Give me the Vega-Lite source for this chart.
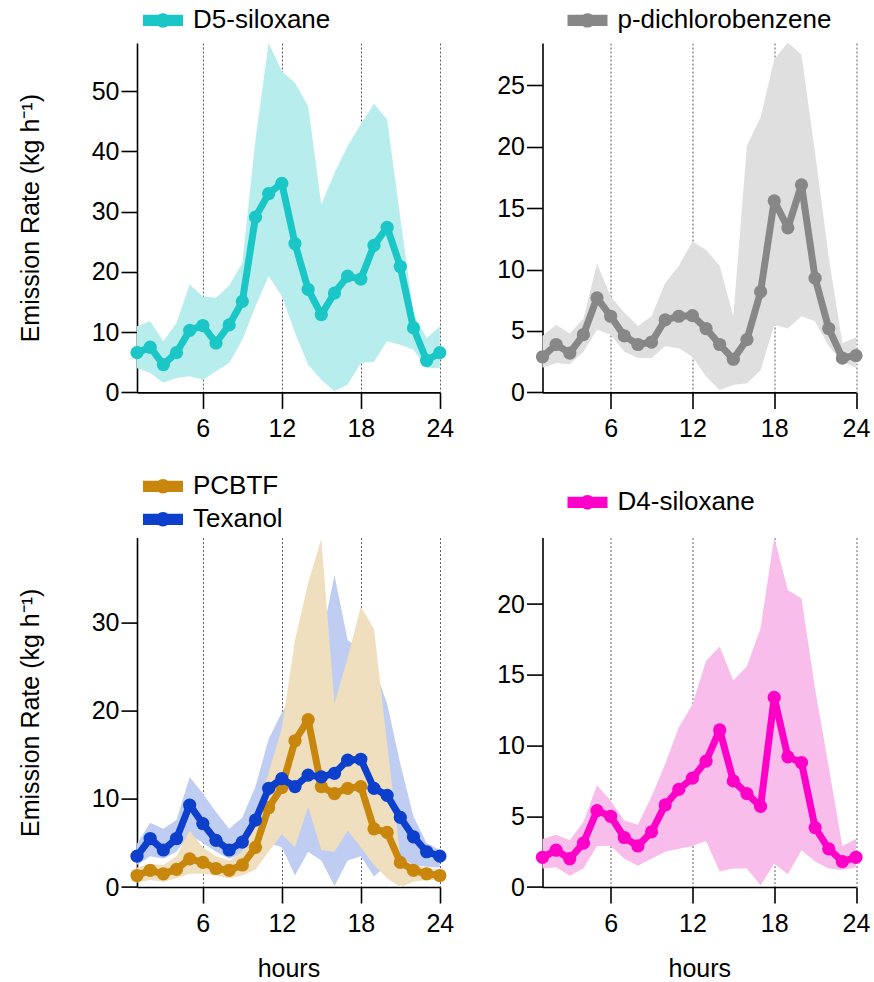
{
  "$schema": "https://vega.github.io/schema/vega-lite/v6.json",
  "autosize": {"type": "pad"},
  "padding": {"left": 18, "top": 0, "right": 5, "bottom": 5},
  "background": "white",
  "datasets": {
    "d5": [
      {"compound": "D5-siloxane", "hour": 1, "mean": 6.6, "lo": 4.0, "hi": 11.0},
      {"compound": "D5-siloxane", "hour": 2, "mean": 7.5, "lo": 3.2, "hi": 11.8},
      {"compound": "D5-siloxane", "hour": 3, "mean": 4.6, "lo": 1.6, "hi": 8.5},
      {"compound": "D5-siloxane", "hour": 4, "mean": 6.6, "lo": 2.4, "hi": 11.5},
      {"compound": "D5-siloxane", "hour": 5, "mean": 10.3, "lo": 2.7, "hi": 17.9},
      {"compound": "D5-siloxane", "hour": 6, "mean": 11.1, "lo": 2.1, "hi": 15.9},
      {"compound": "D5-siloxane", "hour": 7, "mean": 8.2, "lo": 3.5, "hi": 15.7},
      {"compound": "D5-siloxane", "hour": 8, "mean": 11.2, "lo": 4.9, "hi": 17.7},
      {"compound": "D5-siloxane", "hour": 9, "mean": 15.1, "lo": 8.7, "hi": 21.5},
      {"compound": "D5-siloxane", "hour": 10, "mean": 29.1, "lo": 14.3, "hi": 42.0},
      {"compound": "D5-siloxane", "hour": 11, "mean": 33.0, "lo": 19.3, "hi": 58.0},
      {"compound": "D5-siloxane", "hour": 12, "mean": 34.7, "lo": 16.0, "hi": 53.3},
      {"compound": "D5-siloxane", "hour": 13, "mean": 24.7, "lo": 9.9, "hi": 51.4},
      {"compound": "D5-siloxane", "hour": 14, "mean": 17.1, "lo": 4.6, "hi": 47.5},
      {"compound": "D5-siloxane", "hour": 15, "mean": 12.9, "lo": 2.1, "hi": 31.2},
      {"compound": "D5-siloxane", "hour": 16, "mean": 16.5, "lo": 0.2, "hi": 36.4},
      {"compound": "D5-siloxane", "hour": 17, "mean": 19.3, "lo": 1.3, "hi": 40.9},
      {"compound": "D5-siloxane", "hour": 18, "mean": 18.8, "lo": 4.9, "hi": 44.5},
      {"compound": "D5-siloxane", "hour": 19, "mean": 24.4, "lo": 5.1, "hi": 47.9},
      {"compound": "D5-siloxane", "hour": 20, "mean": 27.4, "lo": 8.5, "hi": 45.3},
      {"compound": "D5-siloxane", "hour": 21, "mean": 20.9, "lo": 7.9, "hi": 29.0},
      {"compound": "D5-siloxane", "hour": 22, "mean": 10.7, "lo": 7.1, "hi": 13.0},
      {"compound": "D5-siloxane", "hour": 23, "mean": 5.3, "lo": 4.0, "hi": 9.0},
      {"compound": "D5-siloxane", "hour": 24, "mean": 6.6, "lo": 4.0, "hi": 11.0}
    ],
    "pdcb": [
      {"compound": "p-dichlorobenzene", "hour": 1, "mean": 2.9, "lo": 2.0, "hi": 4.6},
      {"compound": "p-dichlorobenzene", "hour": 2, "mean": 3.9, "lo": 2.4, "hi": 5.5},
      {"compound": "p-dichlorobenzene", "hour": 3, "mean": 3.2, "lo": 2.3, "hi": 4.8},
      {"compound": "p-dichlorobenzene", "hour": 4, "mean": 4.7, "lo": 3.3, "hi": 6.0},
      {"compound": "p-dichlorobenzene", "hour": 5, "mean": 7.7, "lo": 5.1, "hi": 10.5},
      {"compound": "p-dichlorobenzene", "hour": 6, "mean": 6.2, "lo": 4.7, "hi": 7.8},
      {"compound": "p-dichlorobenzene", "hour": 7, "mean": 4.6, "lo": 3.3, "hi": 6.5},
      {"compound": "p-dichlorobenzene", "hour": 8, "mean": 3.9, "lo": 2.8, "hi": 5.4},
      {"compound": "p-dichlorobenzene", "hour": 9, "mean": 4.1, "lo": 2.8, "hi": 6.2},
      {"compound": "p-dichlorobenzene", "hour": 10, "mean": 5.9, "lo": 3.75, "hi": 8.9},
      {"compound": "p-dichlorobenzene", "hour": 11, "mean": 6.2, "lo": 3.6, "hi": 10.3},
      {"compound": "p-dichlorobenzene", "hour": 12, "mean": 6.25, "lo": 2.9, "hi": 12.3},
      {"compound": "p-dichlorobenzene", "hour": 13, "mean": 5.2, "lo": 1.3, "hi": 11.6},
      {"compound": "p-dichlorobenzene", "hour": 14, "mean": 3.9, "lo": 0.2, "hi": 10.3},
      {"compound": "p-dichlorobenzene", "hour": 15, "mean": 2.7, "lo": 0.6, "hi": 6.2},
      {"compound": "p-dichlorobenzene", "hour": 16, "mean": 4.3, "lo": 0.75, "hi": 20.1},
      {"compound": "p-dichlorobenzene", "hour": 17, "mean": 8.2, "lo": 1.8, "hi": 22.4},
      {"compound": "p-dichlorobenzene", "hour": 18, "mean": 15.6, "lo": 5.5, "hi": 27.1},
      {"compound": "p-dichlorobenzene", "hour": 19, "mean": 13.4, "lo": 5.2, "hi": 28.5},
      {"compound": "p-dichlorobenzene", "hour": 20, "mean": 16.9, "lo": 6.2, "hi": 27.5},
      {"compound": "p-dichlorobenzene", "hour": 21, "mean": 9.3, "lo": 5.8, "hi": 19.5},
      {"compound": "p-dichlorobenzene", "hour": 22, "mean": 5.2, "lo": 3.75, "hi": 11.0},
      {"compound": "p-dichlorobenzene", "hour": 23, "mean": 2.8, "lo": 2.5, "hi": 4.0},
      {"compound": "p-dichlorobenzene", "hour": 24, "mean": 3.0, "lo": 2.0, "hi": 4.5}
    ],
    "pcbtf": [
      {"compound": "PCBTF", "hour": 1, "mean": 1.3, "lo": 0.5, "hi": 2.2},
      {"compound": "PCBTF", "hour": 2, "mean": 1.9, "lo": 0.8, "hi": 2.6},
      {"compound": "PCBTF", "hour": 3, "mean": 1.5, "lo": 0.6, "hi": 2.5},
      {"compound": "PCBTF", "hour": 4, "mean": 2.0, "lo": 1.0, "hi": 3.5},
      {"compound": "PCBTF", "hour": 5, "mean": 3.2, "lo": 1.5, "hi": 6.4},
      {"compound": "PCBTF", "hour": 6, "mean": 2.8, "lo": 1.5, "hi": 4.5},
      {"compound": "PCBTF", "hour": 7, "mean": 2.1, "lo": 1.3, "hi": 3.5},
      {"compound": "PCBTF", "hour": 8, "mean": 1.9, "lo": 1.0, "hi": 3.0},
      {"compound": "PCBTF", "hour": 9, "mean": 2.5, "lo": 1.3, "hi": 4.0},
      {"compound": "PCBTF", "hour": 10, "mean": 4.5, "lo": 2.0, "hi": 8.0},
      {"compound": "PCBTF", "hour": 11, "mean": 9.0, "lo": 4.0, "hi": 13.0},
      {"compound": "PCBTF", "hour": 12, "mean": 11.3, "lo": 6.0, "hi": 18.0},
      {"compound": "PCBTF", "hour": 13, "mean": 16.6, "lo": 4.5, "hi": 28.0},
      {"compound": "PCBTF", "hour": 14, "mean": 19.0, "lo": 9.1, "hi": 34.5},
      {"compound": "PCBTF", "hour": 15, "mean": 11.4, "lo": 4.2, "hi": 39.5},
      {"compound": "PCBTF", "hour": 16, "mean": 10.6, "lo": 4.0, "hi": 20.8},
      {"compound": "PCBTF", "hour": 17, "mean": 11.2, "lo": 6.4, "hi": 26.0},
      {"compound": "PCBTF", "hour": 18, "mean": 11.4, "lo": 4.5, "hi": 31.8},
      {"compound": "PCBTF", "hour": 19, "mean": 6.6, "lo": 2.5, "hi": 29.3},
      {"compound": "PCBTF", "hour": 20, "mean": 6.2, "lo": 1.0, "hi": 16.3},
      {"compound": "PCBTF", "hour": 21, "mean": 2.8, "lo": 0.0, "hi": 3.5},
      {"compound": "PCBTF", "hour": 22, "mean": 1.9, "lo": 0.6, "hi": 2.5},
      {"compound": "PCBTF", "hour": 23, "mean": 1.5, "lo": 0.8, "hi": 2.2},
      {"compound": "PCBTF", "hour": 24, "mean": 1.3, "lo": 0.8, "hi": 2.0}
    ],
    "texanol": [
      {"compound": "Texanol", "hour": 1, "mean": 3.5, "lo": 2.5, "hi": 4.9},
      {"compound": "Texanol", "hour": 2, "mean": 5.5, "lo": 3.5, "hi": 7.3},
      {"compound": "Texanol", "hour": 3, "mean": 4.2, "lo": 3.2, "hi": 6.6},
      {"compound": "Texanol", "hour": 4, "mean": 5.5, "lo": 4.0, "hi": 7.6},
      {"compound": "Texanol", "hour": 5, "mean": 9.3, "lo": 6.0, "hi": 12.5},
      {"compound": "Texanol", "hour": 6, "mean": 7.2, "lo": 5.0, "hi": 10.6},
      {"compound": "Texanol", "hour": 7, "mean": 5.3, "lo": 4.0, "hi": 8.5},
      {"compound": "Texanol", "hour": 8, "mean": 4.2, "lo": 3.2, "hi": 6.6},
      {"compound": "Texanol", "hour": 9, "mean": 5.1, "lo": 3.8, "hi": 7.9},
      {"compound": "Texanol", "hour": 10, "mean": 7.6, "lo": 5.0, "hi": 11.4},
      {"compound": "Texanol", "hour": 11, "mean": 11.2, "lo": 5.0, "hi": 16.8},
      {"compound": "Texanol", "hour": 12, "mean": 12.3, "lo": 4.5, "hi": 19.8},
      {"compound": "Texanol", "hour": 13, "mean": 11.4, "lo": 1.3, "hi": 22.0},
      {"compound": "Texanol", "hour": 14, "mean": 12.7, "lo": 4.0, "hi": 25.0},
      {"compound": "Texanol", "hour": 15, "mean": 12.5, "lo": 3.0, "hi": 28.0},
      {"compound": "Texanol", "hour": 16, "mean": 12.9, "lo": 0.1, "hi": 35.4},
      {"compound": "Texanol", "hour": 17, "mean": 14.4, "lo": 3.0, "hi": 28.0},
      {"compound": "Texanol", "hour": 18, "mean": 14.5, "lo": 3.5, "hi": 27.0},
      {"compound": "Texanol", "hour": 19, "mean": 11.2, "lo": 1.2, "hi": 25.0},
      {"compound": "Texanol", "hour": 20, "mean": 10.4, "lo": 2.5, "hi": 20.8},
      {"compound": "Texanol", "hour": 21, "mean": 7.9, "lo": 2.5, "hi": 14.0},
      {"compound": "Texanol", "hour": 22, "mean": 5.7, "lo": 2.5, "hi": 8.0},
      {"compound": "Texanol", "hour": 23, "mean": 4.0, "lo": 2.3, "hi": 5.0},
      {"compound": "Texanol", "hour": 24, "mean": 3.5, "lo": 2.2, "hi": 4.2}
    ],
    "d4": [
      {"compound": "D4-siloxane", "hour": 1, "mean": 2.1, "lo": 1.3, "hi": 3.4},
      {"compound": "D4-siloxane", "hour": 2, "mean": 2.6, "lo": 1.4, "hi": 3.7},
      {"compound": "D4-siloxane", "hour": 3, "mean": 2.0, "lo": 0.8, "hi": 3.3},
      {"compound": "D4-siloxane", "hour": 4, "mean": 3.1, "lo": 1.3, "hi": 4.6},
      {"compound": "D4-siloxane", "hour": 5, "mean": 5.4, "lo": 2.9, "hi": 7.2},
      {"compound": "D4-siloxane", "hour": 6, "mean": 5.0, "lo": 2.9, "hi": 6.1},
      {"compound": "D4-siloxane", "hour": 7, "mean": 3.5, "lo": 2.0, "hi": 4.7},
      {"compound": "D4-siloxane", "hour": 8, "mean": 2.9, "lo": 1.5, "hi": 4.4},
      {"compound": "D4-siloxane", "hour": 9, "mean": 3.9, "lo": 2.0, "hi": 6.4},
      {"compound": "D4-siloxane", "hour": 10, "mean": 5.8, "lo": 2.5, "hi": 8.7},
      {"compound": "D4-siloxane", "hour": 11, "mean": 6.9, "lo": 2.7, "hi": 11.3},
      {"compound": "D4-siloxane", "hour": 12, "mean": 7.7, "lo": 2.9, "hi": 12.9},
      {"compound": "D4-siloxane", "hour": 13, "mean": 8.9, "lo": 3.25, "hi": 16.0},
      {"compound": "D4-siloxane", "hour": 14, "mean": 11.1, "lo": 1.1, "hi": 17.0},
      {"compound": "D4-siloxane", "hour": 15, "mean": 7.5, "lo": 1.3, "hi": 14.6},
      {"compound": "D4-siloxane", "hour": 16, "mean": 6.6, "lo": 1.3, "hi": 15.6},
      {"compound": "D4-siloxane", "hour": 17, "mean": 5.7, "lo": 0.1, "hi": 18.3},
      {"compound": "D4-siloxane", "hour": 18, "mean": 13.4, "lo": 1.65, "hi": 24.7},
      {"compound": "D4-siloxane", "hour": 19, "mean": 9.2, "lo": 0.9, "hi": 21.0},
      {"compound": "D4-siloxane", "hour": 20, "mean": 8.8, "lo": 2.6, "hi": 20.4},
      {"compound": "D4-siloxane", "hour": 21, "mean": 4.2, "lo": 1.8, "hi": 14.0},
      {"compound": "D4-siloxane", "hour": 22, "mean": 2.7, "lo": 1.3, "hi": 8.5},
      {"compound": "D4-siloxane", "hour": 23, "mean": 1.8, "lo": 1.2, "hi": 2.9},
      {"compound": "D4-siloxane", "hour": 24, "mean": 2.1, "lo": 1.4, "hi": 3.4}
    ]
  },
  "columns": 2,
  "bounds": "flush",
  "spacing": {"row": 144.6, "column": 102.5},
  "resolve": {"scale": {"color": "independent"}, "legend": {"color": "independent"}},
  "concat": [
    {
      "width": 302.8,
      "height": 349.4,
      "layer": [
        {
          "data": {"name": "d5"},
          "mark": {"type": "area", "color": "#b8eded", "opacity": 1},
          "encoding": {
            "x": {"field": "hour", "type": "quantitative", "scale": {"domain": [1, 24], "nice": false, "zero": false}, "axis": {"values": [6, 12, 18, 24], "title": null}},
            "y": {"field": "lo", "type": "quantitative", "scale": {"domain": [0, 58], "nice": false}, "axis": {"values": [0, 10, 20, 30, 40, 50], "title": "Emission Rate (kg h⁻¹)"}},
            "y2": {"field": "hi"}
          }
        },
        {
          "data": {"name": "d5"},
          "mark": {"type": "line", "color": "#1ac6c6", "strokeWidth": 7, "strokeJoin": "round", "opacity": 1},
          "encoding": {
            "x": {"field": "hour", "type": "quantitative", "scale": {"domain": [1, 24], "nice": false, "zero": false}, "axis": {"values": [6, 12, 18, 24], "title": null}},
            "y": {"field": "mean", "type": "quantitative", "scale": {"domain": [0, 58], "nice": false}, "axis": {"values": [0, 10, 20, 30, 40, 50], "title": "Emission Rate (kg h⁻¹)"}}
          }
        },
        {
          "data": {"name": "d5"},
          "mark": {"type": "point", "filled": true, "size": 175, "opacity": 1},
          "encoding": {
            "x": {"field": "hour", "type": "quantitative", "scale": {"domain": [1, 24], "nice": false, "zero": false}, "axis": {"values": [6, 12, 18, 24], "title": null}},
            "y": {"field": "mean", "type": "quantitative", "scale": {"domain": [0, 58], "nice": false}, "axis": {"values": [0, 10, 20, 30, 40, 50], "title": "Emission Rate (kg h⁻¹)"}},
            "color": {"field": "compound", "type": "nominal", "scale": {"domain": ["D5-siloxane"], "range": ["#1ac6c6"]}, "legend": {"title": null, "orient": "none", "legendX": 6, "legendY": -42.6}}
          }
        }
      ]
    },
    {
      "width": 313.5,
      "height": 349.4,
      "layer": [
        {
          "data": {"name": "pdcb"},
          "mark": {"type": "area", "color": "#dfdfdf", "opacity": 1},
          "encoding": {
            "x": {"field": "hour", "type": "quantitative", "scale": {"domain": [1, 24], "nice": false, "zero": false}, "axis": {"values": [6, 12, 18, 24], "title": null}},
            "y": {"field": "lo", "type": "quantitative", "scale": {"domain": [0, 28.45], "nice": false}, "axis": {"values": [0, 5, 10, 15, 20, 25], "title": null}},
            "y2": {"field": "hi"}
          }
        },
        {
          "data": {"name": "pdcb"},
          "mark": {"type": "line", "color": "#878787", "strokeWidth": 7, "strokeJoin": "round", "opacity": 1},
          "encoding": {
            "x": {"field": "hour", "type": "quantitative", "scale": {"domain": [1, 24], "nice": false, "zero": false}, "axis": {"values": [6, 12, 18, 24], "title": null}},
            "y": {"field": "mean", "type": "quantitative", "scale": {"domain": [0, 28.45], "nice": false}, "axis": {"values": [0, 5, 10, 15, 20, 25], "title": null}}
          }
        },
        {
          "data": {"name": "pdcb"},
          "mark": {"type": "point", "filled": true, "size": 175, "opacity": 1},
          "encoding": {
            "x": {"field": "hour", "type": "quantitative", "scale": {"domain": [1, 24], "nice": false, "zero": false}, "axis": {"values": [6, 12, 18, 24], "title": null}},
            "y": {"field": "mean", "type": "quantitative", "scale": {"domain": [0, 28.45], "nice": false}, "axis": {"values": [0, 5, 10, 15, 20, 25], "title": null}},
            "color": {"field": "compound", "type": "nominal", "scale": {"domain": ["p-dichlorobenzene"], "range": ["#878787"]}, "legend": {"title": null, "orient": "none", "legendX": 25, "legendY": -42.6}}
          }
        }
      ]
    },
    {
      "width": 302.8,
      "height": 349.4,
      "layer": [
        {
          "data": {"name": "texanol"},
          "mark": {"type": "area", "color": "#becdf1", "opacity": 1},
          "encoding": {
            "x": {"field": "hour", "type": "quantitative", "scale": {"domain": [1, 24], "nice": false, "zero": false}, "axis": {"values": [6, 12, 18, 24], "title": "hours"}},
            "y": {"field": "lo", "type": "quantitative", "scale": {"domain": [0, 39.66], "nice": false}, "axis": {"values": [0, 10, 20, 30], "title": "Emission Rate (kg h⁻¹)"}},
            "y2": {"field": "hi"}
          }
        },
        {
          "data": {"name": "pcbtf"},
          "mark": {"type": "area", "color": "#efdfbf", "opacity": 1},
          "encoding": {
            "x": {"field": "hour", "type": "quantitative", "scale": {"domain": [1, 24], "nice": false, "zero": false}, "axis": {"values": [6, 12, 18, 24], "title": "hours"}},
            "y": {"field": "lo", "type": "quantitative", "scale": {"domain": [0, 39.66], "nice": false}, "axis": {"values": [0, 10, 20, 30], "title": "Emission Rate (kg h⁻¹)"}},
            "y2": {"field": "hi"}
          }
        },
        {
          "data": {"name": "pcbtf"},
          "mark": {"type": "line", "color": "#c8870c", "strokeWidth": 7, "strokeJoin": "round", "opacity": 1},
          "encoding": {
            "x": {"field": "hour", "type": "quantitative", "scale": {"domain": [1, 24], "nice": false, "zero": false}, "axis": {"values": [6, 12, 18, 24], "title": "hours"}},
            "y": {"field": "mean", "type": "quantitative", "scale": {"domain": [0, 39.66], "nice": false}, "axis": {"values": [0, 10, 20, 30], "title": "Emission Rate (kg h⁻¹)"}}
          }
        },
        {
          "data": {"name": "pcbtf"},
          "mark": {"type": "point", "filled": true, "size": 175, "opacity": 1},
          "encoding": {
            "x": {"field": "hour", "type": "quantitative", "scale": {"domain": [1, 24], "nice": false, "zero": false}, "axis": {"values": [6, 12, 18, 24], "title": "hours"}},
            "y": {"field": "mean", "type": "quantitative", "scale": {"domain": [0, 39.66], "nice": false}, "axis": {"values": [0, 10, 20, 30], "title": "Emission Rate (kg h⁻¹)"}},
            "color": {"field": "compound", "type": "nominal", "scale": {"domain": ["PCBTF", "Texanol"], "range": ["#c8870c", "#0b3fcc"]}, "legend": {"title": null, "orient": "none", "legendX": 6, "legendY": -71.3, "rowPadding": -5.3}}
          }
        },
        {
          "data": {"name": "texanol"},
          "mark": {"type": "line", "color": "#0b3fcc", "strokeWidth": 7, "strokeJoin": "round", "opacity": 1},
          "encoding": {
            "x": {"field": "hour", "type": "quantitative", "scale": {"domain": [1, 24], "nice": false, "zero": false}, "axis": {"values": [6, 12, 18, 24], "title": "hours"}},
            "y": {"field": "mean", "type": "quantitative", "scale": {"domain": [0, 39.66], "nice": false}, "axis": {"values": [0, 10, 20, 30], "title": "Emission Rate (kg h⁻¹)"}}
          }
        },
        {
          "data": {"name": "texanol"},
          "mark": {"type": "point", "filled": true, "size": 175, "opacity": 1},
          "encoding": {
            "x": {"field": "hour", "type": "quantitative", "scale": {"domain": [1, 24], "nice": false, "zero": false}, "axis": {"values": [6, 12, 18, 24], "title": "hours"}},
            "y": {"field": "mean", "type": "quantitative", "scale": {"domain": [0, 39.66], "nice": false}, "axis": {"values": [0, 10, 20, 30], "title": "Emission Rate (kg h⁻¹)"}},
            "color": {"field": "compound", "type": "nominal", "scale": {"domain": ["PCBTF", "Texanol"], "range": ["#c8870c", "#0b3fcc"]}, "legend": {"title": null, "orient": "none", "legendX": 6, "legendY": -71.3, "rowPadding": -5.3}}
          }
        }
      ]
    },
    {
      "width": 313.5,
      "height": 349.4,
      "layer": [
        {
          "data": {"name": "d4"},
          "mark": {"type": "area", "color": "#f9bdec", "opacity": 1},
          "encoding": {
            "x": {"field": "hour", "type": "quantitative", "scale": {"domain": [1, 24], "nice": false, "zero": false}, "axis": {"values": [6, 12, 18, 24], "title": "hours"}},
            "y": {"field": "lo", "type": "quantitative", "scale": {"domain": [0, 24.7], "nice": false}, "axis": {"values": [0, 5, 10, 15, 20], "title": null}},
            "y2": {"field": "hi"}
          }
        },
        {
          "data": {"name": "d4"},
          "mark": {"type": "line", "color": "#ff00c8", "strokeWidth": 7, "strokeJoin": "round", "opacity": 1},
          "encoding": {
            "x": {"field": "hour", "type": "quantitative", "scale": {"domain": [1, 24], "nice": false, "zero": false}, "axis": {"values": [6, 12, 18, 24], "title": "hours"}},
            "y": {"field": "mean", "type": "quantitative", "scale": {"domain": [0, 24.7], "nice": false}, "axis": {"values": [0, 5, 10, 15, 20], "title": null}}
          }
        },
        {
          "data": {"name": "d4"},
          "mark": {"type": "point", "filled": true, "size": 175, "opacity": 1},
          "encoding": {
            "x": {"field": "hour", "type": "quantitative", "scale": {"domain": [1, 24], "nice": false, "zero": false}, "axis": {"values": [6, 12, 18, 24], "title": "hours"}},
            "y": {"field": "mean", "type": "quantitative", "scale": {"domain": [0, 24.7], "nice": false}, "axis": {"values": [0, 5, 10, 15, 20], "title": null}},
            "color": {"field": "compound", "type": "nominal", "scale": {"domain": ["D4-siloxane"], "range": ["#ff00c8"]}, "legend": {"title": null, "orient": "none", "legendX": 25, "legendY": -55.3}}
          }
        }
      ]
    }
  ],
  "config": {
    "font": "Liberation Sans",
    "view": {"stroke": null},
    "axis": {
      "domainColor": "#000", "domainWidth": 1.6,
      "tickColor": "#000", "tickWidth": 1.6, "tickSize": 16,
      "labelFontSize": 25, "labelColor": "#000", "labelFlush": false,
      "titleFontSize": 25, "titleFontWeight": "normal", "titleColor": "#000",
      "grid": false
    },
    "axisX": {"grid": true, "gridDash": [2, 2], "gridColor": "#333", "gridWidth": 0.8, "labelPadding": 8, "titlePadding": 20},
    "axisY": {"labelPadding": 2, "titlePadding": 48},
    "legend": {
      "labelFontSize": 26, "labelColor": "#000", "labelLimit": 400,
      "symbolType": "M-1,-0.28H1V0.28H-1Z M-0.36,0A0.36,0.36 0 1,1 0.36,0A0.36,0.36 0 1,1 -0.36,0Z",
      "symbolSize": 1600, "symbolStrokeWidth": 0, "labelOffset": 10, "padding": 0, "rowPadding": 0
    }
  }
}
